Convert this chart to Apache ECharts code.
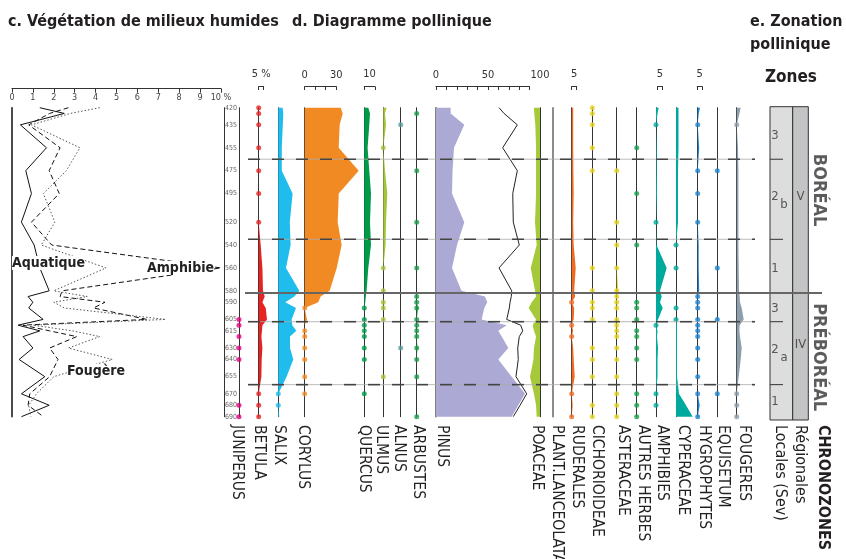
<!DOCTYPE html>
<html>
<head>
<meta charset="utf-8">
<title>Diagramme pollinique</title>
<script src="https://cdn.jsdelivr.net/npm/echarts@6/dist/echarts.min.js"></script>
<style>
html, body { margin: 0; padding: 0; background: #fff; }
#chart { width: 846px; height: 559px; }
</style>
</head>
<body>
<div id="chart"></div>
<script>
// sample depths (cm), top to bottom
var depths = [420, 425, 435, 455, 475, 495, 520, 540, 560, 580, 585, 590, 595, 605, 610, 615, 620, 630, 640, 655, 670, 680, 690];
var depthLabels = [420, 435, 455, 475, 495, 520, 540, 560, 580, 590, 605, 615, 630, 640, 655, 670, 680, 690];
var zoneBounds = [465, 535, 607, 662];
var chronoBound = 582;

// c. vegetation de milieux humides (%)
var aquatique = [1.33, 2.5, 0.4, 1.65, 0.66, 0.93, 0.45, 1.06, 1.33, 1.78, 0.77, 1.0, 0.8, 1.49, 0.29, 1.33, 0.53, 1.0, 0.34, 1.57, 0.45, 1.78, 0.45];
var amphibie = [2.7, 1.8, 0.8, 2.3, 1.78, 2.26, 0.93, 1.9, 10, 2.4, 2.3, 4.45, 3.9, 6.45, 0.53, 1.8, 3.1, 1.8, 2.2, 1.8, 0.85, 0.77, 1.5];
var fougere = [4.2, 2.8, 0.93, 3.25, 2.6, 1.5, 2.05, 1.4, 4.5, 2.0, 3.6, 2.0, 2.5, 7.35, 1.0, 2.9, 4.2, 2.7, 4.8, 2.0, 1.17, 0.8, 0.9];

// d. diagramme pollinique (%), one value per depth; *Dots = depths with traces
var juniperusDots = [605, 610, 620, 630, 640, 680, 690];
var betula = [0, 0, 0, 0, 0, 0, 0, 2, 3.7, 4.3, 6, 3.7, 7, 8.3, 3.7, 3.3, 2.7, 3.7, 3, 2.7, 0, 0, 0];
var betulaDots = [420, 425, 435, 455, 475, 495, 520, 670, 680, 690];
var salix = [4.3, 5, 4.5, 3.5, 3.5, 14.3, 11.5, 12.3, 7.7, 21, 16, 7, 17.7, 13.3, 14, 18, 11.7, 11.7, 15, 8.3, 0, 0, 1];
var salixDots = [670, 680];
var corylus = [34.3, 36.2, 33.3, 32.4, 51.4, 32.4, 31.4, 35.2, 30.5, 23.8, 15.2, 12.9, 0, 2.2, 0, 0, 0, 0, 0, 0, 0, 0, 0];
var corylusDots = [595, 615, 620, 630, 640, 655, 670];
var quercus = [4, 5.7, 5, 3.3, 5, 6.7, 5.7, 6.7, 4, 2.3, 1.5, 1, 0, 0, 0, 0, 0, 0, 0, 0, 0, 0, 0];
var quercusDots = [595, 605, 610, 615, 620, 630, 640, 670];
var ulmus = [3.3, 1.7, 2.7, 0, 1.7, 4, 2.7, 2.3, 0, 0, 0, 0, 0, 0, 0, 0, 0, 0, 0, 0, 0, 0, 0];
var ulmusDots = [455, 560, 580, 590, 595, 605, 655];
var alnusDots = [435, 630];
var arbustes = [0, 0, 0, 0, 0, 0, 0, 0, 0, 0, 0, 0, 1.5, 0, 0, 0, 0, 0.8, 0, 0, 0, 0, 0];
var arbustesDots = [425, 475, 520, 560, 585, 590, 595, 605, 610, 615, 620, 630, 640, 655, 690];
var pinus = [14.1, 14.1, 27.2, 17.3, 15.9, 15.4, 27.2, 20.2, 15.4, 24.5, 47.1, 49.3, 46.4, 43.9, 68, 59.9, 63.2, 69.5, 59.9, 72.8, 85.6, 79.1, 72.8];
var arboreal = [60.6, 65.4, 78.2, 64.1, 78.2, 73.8, 74.3, 80.1, 60.6, 72.8, 72.4, 71.2, 70.5, 68, 81.4, 83.4, 80.1, 78.6, 79.1, 76.9, 87.2, 80.8, 74.3];
var poaceae = [5.8, 5.5, 4.5, 3.8, 3.8, 3.8, 4.8, 3.2, 8.9, 4.8, 3.8, 8, 10.9, 3.8, 7, 5.8, 3.8, 5.8, 6.3, 9.6, 5.8, 3.8, 3.2];
var ruderales = [1.5, 1.5, 1.5, 1.5, 1.7, 2, 1.5, 2, 4, 2.5, 3.5, 0, 2.5, 2, 0, 1.5, 0, 1.5, 2, 3, 0, 1, 0];
var ruderalesDots = [590, 610, 620, 670, 690];
var cichorioideaeDots = [420, 425, 435, 455, 475, 560, 580, 590, 595, 605, 630, 640, 655, 680, 690];
var asteraceae = [0, 0, 0, 0, 0, 0, 0, 0, 0, 1.5, 0, 0, 0, 0, 0, 0, 0, 0, 0, 0, 0, 0, 0];
var asteraceaeDots = [475, 520, 540, 560, 580, 585, 590, 595, 605, 610, 615, 620, 630, 640, 655, 670, 680, 690];
var autresHerbesDots = [455, 495, 540, 590, 595, 605, 615, 620, 630, 640, 670, 680, 690];
var amphibies = [2.7, 1.5, 0, 0.7, 0.7, 1, 0, 0.5, 10.7, 4, 5.7, 4, 6.7, 2, 0, 1.5, 1, 2, 1.5, 1.5, 0, 0, 0];
var amphibiesDots = [435, 520, 610, 670, 680];
var cyperaceae = [2.5, 2.5, 2.5, 2.5, 2, 2, 2, 0, 0, 0, 0, 0, 0, 0, 1, 1, 1, 1, 1, 1, 3, 10, 16.7];
var cyperaceaeDots = [540, 560, 595, 605];
var hygrophytes = [2.3, 1, 0, 1.5, 0, 0, 0, 1, 1, 1.5, 0, 0, 0, 0, 0, 0, 0, 0, 0, 0, 0, 2, 0];
var hygrophytesDots = [435, 475, 495, 520, 585, 590, 595, 605, 610, 615, 620, 630, 640, 655, 670, 690];
var equisetumDots = [475, 560, 605, 670];
var fougeres = [4, 2.7, 0, 1.3, 1.7, 1.7, 1.7, 1.7, 2, 2.3, 3, 3.3, 5, 7, 3, 2.7, 3.3, 5, 4, 2, 0, 0, 0];
var fougeresDots = [435, 670, 680, 690];

var taxa = ['JUNIPERUS', 'BETULA', 'SALIX', 'CORYLUS', 'QUERCUS', 'ULMUS', 'ALNUS', 'ARBUSTES', 'PINUS', 'POACEAE',
    'PLANT.LANCEOLATA', 'RUDERALES', 'CICHORIOIDEAE', 'ASTERACEAE', 'AUTRES HERBES', 'AMPHIBIES', 'CYPERACEAE',
    'HYGROPHYTES', 'EQUISETUM', 'FOUGERES'];

// e. zonation
var localZones = ['3', '2', '1', '3', '2', '1'];
var localZoneSub = ['', 'b', '', '', 'a', ''];
var localZoneDepth = [444, 498, 561, 596, 631, 677];
var regionalZones = ['V', 'IV'];
var regionalZoneDepth = [498, 627];
var chronozones = ['BORÉAL', 'PRÉBORÉAL'];
var chronozoneDepth = [492, 638];

var FONT = "'Liberation Sans Narrow', 'DejaVu Sans Condensed', 'Arial Narrow', sans-serif";
var TOP = 107.7, HEIGHT = 309;
var INK = '#333';

var grids = [], xAxes = [], yAxes = [], series = [];

function column(x, width, scale, opt) {
    opt = opt || {};
    var i = grids.length;
    grids.push({left: opt.inverse ? x - width : x, top: TOP, width: width, height: HEIGHT});
    xAxes.push({gridIndex: i, type: 'value', min: 0, max: width / scale, inverse: !!opt.inverse, show: false});
    yAxes.push({
        gridIndex: i, type: 'value', min: 420, max: 690, inverse: true,
        position: opt.inverse ? 'right' : 'left',
        axisLine: {show: true, onZero: false, lineStyle: {color: opt.lineColor || INK, width: opt.lineWidth || 1}},
        axisTick: {show: false}, axisLabel: {show: false}, splitLine: {show: false}
    });
    return i;
}

function overlay(x, width, top, height, ymin, ymax, gridExtra) {
    var i = grids.length;
    grids.push(Object.assign({left: x, top: top, width: width, height: height}, gridExtra));
    xAxes.push({gridIndex: i, type: 'value', min: 0, max: width, show: false});
    yAxes.push({gridIndex: i, type: 'value', min: ymin, max: ymax, inverse: true, show: false});
    return i;
}

function area(g, vals, color) {
    series.push({
        type: 'custom', xAxisIndex: g, yAxisIndex: g, silent: true, z: 2,
        data: depths.map(function (d, k) { return [vals[k], d]; }),
        encode: {x: 0, y: 1},
        renderItem: function (params, api) {
            if (params.dataIndex !== 0) return;
            var pts = [api.coord([0, depths[0]])];
            for (var k = 0; k < depths.length; k++) pts.push(api.coord([vals[k], depths[k]]));
            pts.push(api.coord([0, depths[depths.length - 1]]));
            return {type: 'polygon', shape: {points: pts}, style: {fill: color}};
        }
    });
}

function dots(g, list, color) {
    series.push({
        type: 'scatter', xAxisIndex: g, yAxisIndex: g, silent: true, clip: false, z: 3,
        symbolSize: 5, itemStyle: {color: color},
        data: list.map(function (d) { return [0, d]; })
    });
}

function curve(g, vals, color, type) {
    series.push({
        type: 'line', xAxisIndex: g, yAxisIndex: g, silent: true, clip: false, z: 3,
        symbol: 'none', lineStyle: {color: color, width: 1, type: type || 'solid'},
        data: depths.map(function (d, k) { return [vals[k], d]; })
    });
}

function hlines(g, list, x2, styles) {
    series.push({
        type: 'custom', xAxisIndex: g, yAxisIndex: g, silent: true, z: 6,
        data: list.map(function (d) { return [0, d]; }),
        encode: {x: 0, y: 1},
        renderItem: function (params, api) {
            var a = api.coord([0, api.value(1)]), b = api.coord([x2, api.value(1)]);
            return {
                type: 'group',
                children: styles.map(function (s) {
                    return {type: 'line', shape: {x1: a[0], y1: a[1], x2: b[0], y2: b[1]}, style: s};
                })
            };
        }
    });
}

// a small scale bar above a column: line + downward ticks, labels above
function scaleBar(x, width, max, interval, labels, name, noLine) {
    var i = grids.length;
    grids.push({left: x, top: 82.5, width: width, height: 4});
    xAxes.push({
        gridIndex: i, type: 'value', min: 0, max: max, interval: interval, position: 'top',
        axisLine: {show: !noLine, lineStyle: {color: INK, width: 1}},
        axisTick: {show: !noLine, inside: true, length: 3.5, lineStyle: {color: INK}},
        axisLabel: {
            show: true, margin: 2, fontSize: 11, fontFamily: FONT, color: INK,
            formatter: function (v) { return labels.indexOf(v) >= 0 ? String(v) : ''; }
        },
        splitLine: {show: false},
        name: name || '', nameLocation: 'middle', nameGap: 3,
        nameTextStyle: {fontSize: 11, fontFamily: FONT, color: INK, align: 'center', verticalAlign: 'bottom'}
    });
    yAxes.push({gridIndex: i, type: 'value', show: false});
}

// ---- c. panel
grids.push({left: 12, top: TOP, width: 209, height: HEIGHT});
xAxes.push({
    gridIndex: 0, type: 'value', min: 0, max: 10, interval: 1, position: 'top', offset: 19,
    axisLine: {show: true, lineStyle: {color: INK, width: 1}},
    axisTick: {show: true, inside: true, length: 4, lineStyle: {color: INK}},
    axisLabel: {inside: true, margin: 4, fontSize: 9, color: '#444', fontFamily: FONT,
        formatter: function (v) { return v === 10 ? '10 %' : String(v); }},
    splitLine: {show: false}
});
yAxes.push({
    gridIndex: 0, type: 'value', min: 420, max: 690, inverse: true,
    axisLine: {show: true, onZero: false, lineStyle: {color: '#111', width: 1.5}},
    axisTick: {show: false}, axisLabel: {show: false}, splitLine: {show: false}
});
curve(0, aquatique, '#111', 'solid');
curve(0, amphibie, '#111', [5, 3]);
curve(0, fougere, '#555', [1.5, 2]);

// ---- d. pollen columns
var gJun = column(239, 10, 1);
yAxes[gJun].interval = 5;
yAxes[gJun].axisLabel = {
    show: true, margin: 2, fontSize: 7, color: '#666', fontFamily: FONT,
    formatter: function (v) { return depthLabels.indexOf(v) >= 0 ? String(v) : ''; }
};
dots(gJun, juniperusDots, '#e5007e');

var gBet = column(258.7, 15, 1);
area(gBet, betula, '#e52421');
dots(gBet, betulaDots, '#e52421');

var gSal = column(278.3, 25, 1);
area(gSal, salix, '#1fbcee');
dots(gSal, salixDots, '#1fbcee');

var gCor = column(304.7, 60, 1.05);
area(gCor, corylus, '#f28a24');
dots(gCor, corylusDots, '#f28a24');

var gQue = column(364.3, 15, 1);
area(gQue, quercus, '#009b48');
dots(gQue, quercusDots, '#009b48');

var gUlm = column(383.3, 12, 1);
area(gUlm, ulmus, '#a5c539');
dots(gUlm, ulmusDots, '#a5c539');

var gAln = column(400.7, 10, 1);
dots(gAln, alnusDots, '#5b9d9b');

var gArb = column(416.7, 10, 1);
area(gArb, arbustes, '#1b9b4a');
dots(gArb, arbustesDots, '#1b9b4a');

var gPin = column(436, 104, 1.04, {lineColor: '#555', lineWidth: 1.5});
area(gPin, pinus, '#aca9d4');
curve(gPin, arboreal, '#222', 'solid');

var gPoa = column(540, 15.6, 1.04, {inverse: true});
area(gPoa, poaceae, '#a6c93a');

column(552.3, 10, 1, {lineColor: '#666', lineWidth: 1.5});

var gRud = column(571.7, 12, 1);
area(gRud, ruderales, '#f26a22');
dots(gRud, ruderalesDots, '#f26a22');

var gCic = column(592.3, 10, 1);
dots(gCic, cichorioideaeDots, '#e3d21c');

var gAst = column(616.7, 10, 1);
area(gAst, asteraceae, '#e3d21c');
dots(gAst, asteraceaeDots, '#e3d21c');

var gAut = column(636.7, 10, 1);
dots(gAut, autresHerbesDots, '#1aa04a');

var gAmp = column(656, 15, 1);
area(gAmp, amphibies, '#00a99d');
dots(gAmp, amphibiesDots, '#00a99d');

var gCyp = column(676, 20, 1);
area(gCyp, cyperaceae, '#00a99d');
dots(gCyp, cyperaceaeDots, '#00a99d');

var gHyg = column(697.7, 10, 1);
area(gHyg, hygrophytes, '#1a83d0');
dots(gHyg, hygrophytesDots, '#1a83d0');

var gEqu = column(717.3, 10, 1);
dots(gEqu, equisetumDots, '#1a83d0');

var gFou = column(736.7, 12, 1);
area(gFou, fougeres, '#8c9fab');
dots(gFou, fougeresDots, '#8c9fab');

// scale bars
scaleBar(258.7, 5, 5, 5, [], '5 %');
scaleBar(304.7, 31.5, 30, 10, [0, 30]);
scaleBar(364.3, 10.5, 10, 10, [], '10');
scaleBar(436, 93.6, 90, 10, []);
scaleBar(436, 104, 100, 10, [0, 50, 100], '', true);
scaleBar(571.7, 5, 5, 5, [], '5');
scaleBar(657.5, 5, 5, 5, [], '5');
scaleBar(697.2, 5, 5, 5, [], '5');

// zone boundaries across the diagram
var gDash = overlay(248, 507, TOP, HEIGHT, 420, 690);
hlines(gDash, zoneBounds, 507, [
    {stroke: '#aaa', lineWidth: 0.8},
    {stroke: '#444', lineWidth: 1.6, lineDash: [12, 12]}
]);

// e. zonation boxes
var gZ1 = overlay(770, 22.7, 106.7, 313.3, 419.1, 692.9,
    {show: true, backgroundColor: '#dddddd', borderColor: '#333', borderWidth: 1});
var gZ2 = overlay(792.7, 15.6, 106.7, 313.3, 419.1, 692.9,
    {show: true, backgroundColor: '#c3c4c6', borderColor: '#333', borderWidth: 1});
hlines(gZ1, zoneBounds, 13, [{stroke: '#333', lineWidth: 1}]);

var gSolid = overlay(245, 577, TOP, HEIGHT, 420, 690);
hlines(gSolid, [chronoBound], 577, [{stroke: '#666', lineWidth: 2}]);

function textPoints(g, names, ds, x, size, weight, rotate, dy) {
    series.push({
        type: 'scatter', xAxisIndex: g, yAxisIndex: g, silent: true, clip: false, z: 7,
        symbolSize: 0,
        data: names.map(function (n, k) { return {name: n, value: [x, ds[k] + (dy || 0)]}; }),
        label: {
            show: true, position: 'inside', rotate: rotate || 0,
            formatter: function (p) { return p.name; },
            fontFamily: FONT, fontSize: size, fontWeight: weight || 'normal', color: '#333'
        }
    });
}
textPoints(gZ1, localZones, localZoneDepth, 5, 13);
textPoints(gZ1, localZoneSub, localZoneDepth, 14, 13, 'normal', 0, 7);
textPoints(gZ2, regionalZones, regionalZoneDepth, 7.8, 13);
var gChr = overlay(812, 14, TOP, HEIGHT, 420, 690);
textPoints(gChr, chronozones, chronozoneDepth, 7, 18, 'bold', -90);

// right border of panel c
yAxes.push({
    gridIndex: 0, type: 'value', min: 420, max: 690, inverse: true, position: 'right', offset: 3,
    axisLine: {show: true, onZero: false, lineStyle: {color: '#333', width: 1}},
    axisTick: {show: false}, axisLabel: {show: false}, splitLine: {show: false}
});

// rotated column names under the diagram
var taxaLabelX = [237.5, 259, 279, 303, 364, 381.5, 399, 418, 442, 537.5, 557.5, 576.7, 597, 623, 643, 662, 683, 704, 723, 744];
var graphics = taxa.map(function (t, k) {
    return {
        type: 'text', x: taxaLabelX[k], y: 425, rotation: -Math.PI / 2, silent: true,
        style: {text: t, fill: '#231f20', font: '15.5px ' + FONT, align: 'left', verticalAlign: 'middle'}
    };
});
[['Locales (Sev)', 780, 'normal'], ['Régionales', 800, 'normal'], ['CHRONOZONES', 823, 'bold']].forEach(function (t) {
    graphics.push({
        type: 'text', x: t[1], y: 425, rotation: -Math.PI / 2, silent: true,
        style: {text: t[0], fill: '#231f20', font: t[2] + ' 16px ' + FONT, align: 'left', verticalAlign: 'middle'}
    });
});
[['Aquatique', 12, 263], ['Amphibie', 147, 268], ['Fougère', 67, 371]].forEach(function (t) {
    graphics.push({
        type: 'text', x: t[1], y: t[2], silent: true, z: 10,
        style: {text: t[0], fill: '#222', font: 'bold 14px ' + FONT, align: 'left', verticalAlign: 'middle',
            backgroundColor: '#fff'}
    });
});

var titleStyle = {fontFamily: FONT, fontSize: 16, fontWeight: 'bold', color: '#231f20'};
var chart = echarts.init(document.getElementById('chart'));
chart.setOption({
    animation: false,
    backgroundColor: '#fff',
    title: [
        {text: 'c. Végétation de milieux humides', left: 8, top: 14, padding: 0, textStyle: titleStyle},
        {text: 'd. Diagramme pollinique', left: 292, top: 14, padding: 0, textStyle: titleStyle},
        {text: 'e. Zonation', left: 750, top: 14, padding: 0, textStyle: titleStyle},
        {text: 'pollinique', left: 750, top: 37, padding: 0, textStyle: titleStyle},
        {text: 'Zones', left: 765, top: 69, padding: 0, textStyle: Object.assign({}, titleStyle, {fontSize: 17})}
    ],
    grid: grids,
    xAxis: xAxes,
    yAxis: yAxes,
    series: series,
    graphic: graphics
});
</script>
</body>
</html>
